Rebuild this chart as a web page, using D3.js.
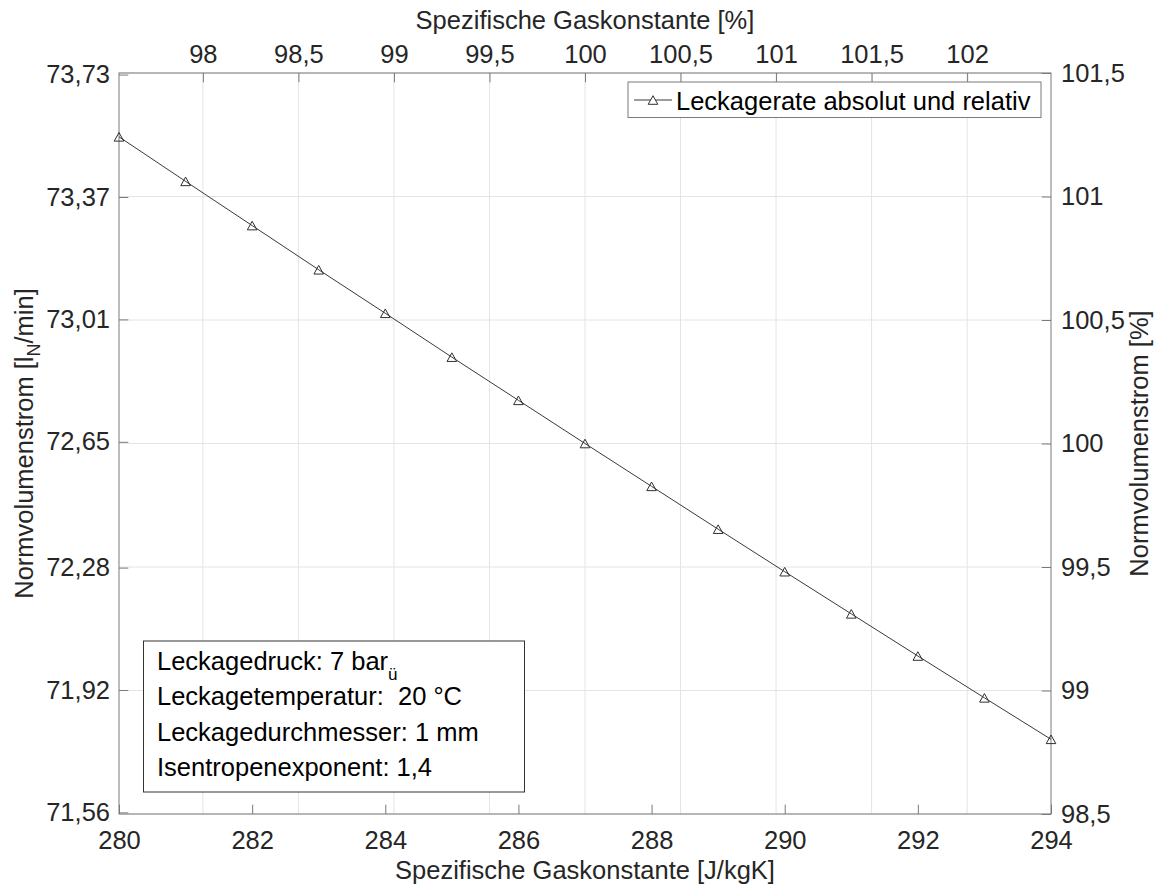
<!DOCTYPE html>
<html>
<head>
<meta charset="utf-8">
<script src="https://cdn.jsdelivr.net/npm/d3@7"></script>
<style>
  html, body { margin: 0; padding: 0; background: #fff; }
  svg text { font-family: "Liberation Sans", Arial, Helvetica, sans-serif; white-space: pre; }
</style>
</head>
<body>
<svg id="chart" width="1160" height="885"></svg>
<script>
// Specific gas constant R [J/kgK]
const gasConstant = [280, 281, 282, 283, 284, 285, 286, 287, 288, 289, 290, 291, 292, 293, 294];
// Normal volume flow through the leak [l_N/min]
const leakFlow = [73.547, 73.416, 73.286, 73.156, 73.028, 72.899, 72.772, 72.645,
                  72.519, 72.393, 72.268, 72.144, 72.020, 71.897, 71.775];
// Reference state (100 %)
const refGasConstant = 287;
const refFlow = 72.645;

const bottomTicks = [280, 282, 284, 286, 288, 290, 292, 294];
const topTicks = [98, 98.5, 99, 99.5, 100, 100.5, 101, 101.5, 102];
const leftTicks = [71.56, 71.92, 72.28, 72.65, 73.01, 73.37, 73.73];
const rightTicks = [98.5, 99, 99.5, 100, 100.5, 101, 101.5];

const infoLines = [
  ["Leckagedruck: 7 bar", "ü"],
  ["Leckagetemperatur:  20 °C", ""],
  ["Leckagedurchmesser: 1 mm", ""],
  ["Isentropenexponent: 1,4", ""]
];
const legendLabel = "Leckagerate absolut und relativ";

const L = 119, R = 1051, T = 73, B = 814;
const fs = 25.5;
const tickLen = 9.3;
const txtCol = "#262626";
const axisCol = "#7a7a7a";
const gridCol = "#e4e4e4";

const svg = d3.select("#chart");
svg.append("rect").attr("width", 1160).attr("height", 885).attr("fill", "#fff");

const x = d3.scaleLinear().domain([280, 294]).range([L, R]);
const xTop = d3.scaleLinear()
  .domain([280 / refGasConstant * 100, 294 / refGasConstant * 100]).range([L, R]);
const yRel = d3.scaleLinear().domain([98.5, 101.5]).range([B, T]);
const yAbs = d3.scaleLinear().domain([refFlow * 0.985, refFlow * 1.015]).range([B, T]);

const comma = d => String(d).replace(".", ",");

// grid
const grid = svg.append("g");
grid.selectAll("line.v").data(topTicks).join("line")
  .attr("x1", d => xTop(d)).attr("x2", d => xTop(d))
  .attr("y1", T).attr("y2", B)
  .attr("stroke", gridCol).attr("stroke-width", 1);
grid.selectAll("line.h").data(rightTicks).join("line")
  .attr("x1", L).attr("x2", R)
  .attr("y1", d => yRel(d)).attr("y2", d => yRel(d))
  .attr("stroke", gridCol).attr("stroke-width", 1);

function styleAxis(g) {
  g.select(".domain").remove();
  g.selectAll(".tick line").attr("stroke", axisCol).attr("stroke-width", 1);
  g.selectAll(".tick text").attr("fill", txtCol).style("font-size", fs + "px");
}

svg.append("g").attr("transform", `translate(0,${B})`)
  .call(d3.axisBottom(x).tickValues(bottomTicks).tickSize(-tickLen).tickPadding(17).tickFormat(comma))
  .call(styleAxis);
svg.append("g").attr("transform", `translate(0,${T})`)
  .call(d3.axisTop(xTop).tickValues(topTicks).tickSize(-tickLen).tickPadding(10).tickFormat(comma))
  .call(styleAxis);
svg.append("g").attr("transform", `translate(${L},0)`)
  .call(d3.axisLeft(yAbs).tickValues(leftTicks).tickSize(-tickLen).tickPadding(9)
    .tickFormat(d => d.toFixed(2).replace(".", ",")))
  .call(styleAxis);
svg.append("g").attr("transform", `translate(${R},0)`)
  .call(d3.axisRight(yRel).tickValues(rightTicks).tickSize(-tickLen).tickPadding(10).tickFormat(comma))
  .call(styleAxis);

// frame
svg.append("rect").attr("x", L).attr("y", T).attr("width", R - L).attr("height", B - T)
  .attr("fill", "none").attr("stroke", axisCol).attr("stroke-width", 1);

// axis titles
svg.append("text").attr("x", (L + R) / 2).attr("y", 879).attr("text-anchor", "middle")
  .attr("fill", txtCol).style("font-size", fs + "px")
  .text("Spezifische Gaskonstante [J/kgK]");
svg.append("text").attr("x", (L + R) / 2).attr("y", 29).attr("text-anchor", "middle")
  .attr("fill", txtCol).style("font-size", fs + "px")
  .text("Spezifische Gaskonstante [%]");

const yl = svg.append("text")
  .attr("transform", `translate(33,${(T + B) / 2}) rotate(-90)`)
  .attr("text-anchor", "middle").attr("fill", txtCol).style("font-size", fs + "px");
yl.append("tspan").text("Normvolumenstrom [l");
yl.append("tspan").attr("dy", 7).style("font-size", "18px").text("N");
yl.append("tspan").attr("dy", -7).text("/min]");

svg.append("text")
  .attr("transform", `translate(1148,${(T + B) / 2}) rotate(-90)`)
  .attr("text-anchor", "middle").attr("fill", txtCol).style("font-size", fs + "px")
  .text("Normvolumenstrom [%]");

// data line with triangle markers
const line = d3.line().x((d, i) => x(gasConstant[i])).y(d => yAbs(d));
svg.append("path").datum(leakFlow).attr("d", line)
  .attr("fill", "none").attr("stroke", "#3a3a3a").attr("stroke-width", 1);

const tri = (cx, cy) => {
  const w = 4.8, h = 4.3;
  return `M${cx},${cy - h}L${cx + w},${cy + h}L${cx - w},${cy + h}Z`;
};
svg.append("g").selectAll("path").data(leakFlow).join("path")
  .attr("d", (d, i) => tri(x(gasConstant[i]), yAbs(d)))
  .attr("fill", "none").attr("stroke", "#303030").attr("stroke-width", 1);

// legend
const lg = svg.append("g");
lg.append("rect").attr("x", 628).attr("y", 82).attr("width", 413).attr("height", 35.5)
  .attr("fill", "#fff").attr("stroke", axisCol).attr("stroke-width", 1);
lg.append("line").attr("x1", 634).attr("x2", 672).attr("y1", 100).attr("y2", 100)
  .attr("stroke", "#3a3a3a").attr("stroke-width", 1);
lg.append("path").attr("d", tri(653, 100)).attr("fill", "#fff").attr("stroke", "#303030");
lg.append("text").attr("x", 676).attr("y", 110).attr("fill", "#000")
  .style("font-size", fs + "px").text(legendLabel);

// info box
const ib = svg.append("g");
ib.append("rect").attr("x", 143.5).attr("y", 641).attr("width", 381).attr("height", 151)
  .attr("fill", "#fff").attr("stroke", "#333").attr("stroke-width", 1);
const baselines = [670, 705, 741, 776];
infoLines.forEach((ln, i) => {
  const t = ib.append("text").attr("x", 157).attr("y", baselines[i]).attr("fill", "#000")
    .style("font-size", fs + "px");
  t.append("tspan").text(ln[0]);
  if (ln[1]) t.append("tspan").attr("dy", 10).style("font-size", "17px").text(ln[1]);
});
</script>
</body>
</html>
